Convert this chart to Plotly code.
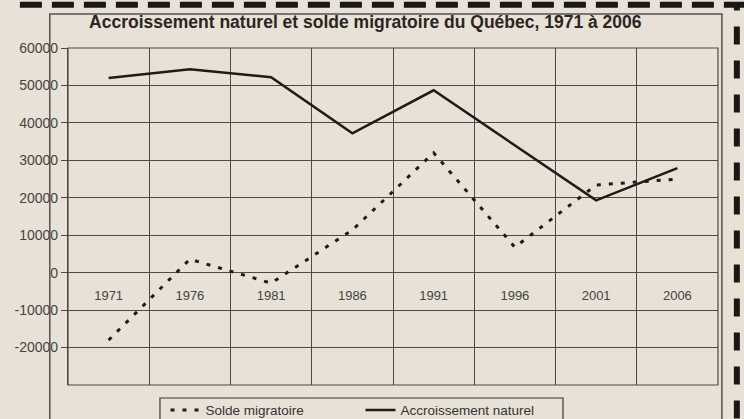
import plotly.graph_objects as go

years = ["1971", "1976", "1981", "1986", "1991", "1996", "2001", "2006"]
accroissement = [52000, 54300, 52200, 37200, 48700, 34000, 19300, 27900]
solde = [-18000, 3600, -2800, 11400, 32000, 6800, 23400, 25000]
y_ticks = [-20000, -10000, 0, 10000, 20000, 30000, 40000, 50000, 60000]
y_tick_labels = [str(v) for v in y_ticks]

PAPER = "#e8e1d5"
INK = "#1f1b18"
GRID = "#4f4943"
FONT = "Liberation Sans, Arial, sans-serif"

fig = go.Figure()
fig.add_trace(go.Scatter(
    x=years, y=solde, mode="lines", name="Solde migratoire",
    line=dict(color=INK, width=3, dash="4px,8px"),
))
fig.add_trace(go.Scatter(
    x=years, y=accroissement, mode="lines", name="Accroissement naturel",
    line=dict(color=INK, width=2.5),
))

fig.update_layout(
    width=744, height=419,
    paper_bgcolor=PAPER, plot_bgcolor=PAPER,
    margin=dict(l=68, r=26, t=48, b=34, autoexpand=False),
    title=dict(
        text="<b>Accroissement naturel et solde migratoire du Québec, 1971 à 2006</b>",
        x=0.491, xanchor="center", y=0.947, yanchor="middle",
        font=dict(family=FONT, size=17.5, color="#2a2622"),
    ),
    font=dict(family=FONT, size=12, color="#444"),
    showlegend=True,
    legend=dict(
        orientation="h", x=0.15, y=-0.029, xanchor="left", yanchor="top",
        borderwidth=0, bgcolor="rgba(0,0,0,0)",
        font=dict(family=FONT, size=13.5, color="#333"),
        entrywidth=150, entrywidthmode="pixels",
    ),
    xaxis=dict(
        type="category", tickson="boundaries",
        showgrid=True, gridcolor=GRID, gridwidth=1.2,
        anchor="free", position=1/3,
        showline=False, ticks="", ticklabelstandoff=13,
        tickfont=dict(family=FONT, size=13, color="#444"),
        range=[-0.5, 7.5], fixedrange=True,
    ),
    yaxis=dict(
        range=[-30000, 60000], tickmode="array", tickvals=y_ticks,
        ticktext=y_tick_labels,
        showgrid=True, gridcolor=GRID, gridwidth=1.2,
        zeroline=False, showline=True, linecolor=GRID, linewidth=1.2,
        ticks="outside", ticklen=6, tickcolor=GRID,
        tickfont=dict(family=FONT, size=14, color="#444"),
    ),
    shapes=[
        dict(type="rect", xref="paper", yref="paper", x0=0, x1=1, y0=0, y1=1,
             line=dict(color=GRID, width=1.2)),
        dict(type="rect", xref="paper", yref="paper", x0=-0.028, x1=1.006, y0=-0.3, y1=1.101,
             line=dict(color="#55504a", width=1.5)),
        dict(type="rect", xref="paper", yref="paper", x0=0.1415, x1=0.7615, y0=-0.3, y1=-0.0386,
             line=dict(color="#3a3632", width=1.2)),
        dict(type="line", xref="paper", yref="paper", x0=-0.074, x1=1.04, y0=1.128, y1=1.128,
             line=dict(color="#1a1613", width=6, dash="22px,10px")),
        dict(type="line", xref="paper", yref="paper", x0=1.029, x1=1.029, y0=-0.2, y1=1.13,
             line=dict(color="#1a1613", width=6, dash="18px,16px")),
    ],
)

fig.write_html(
    "out.html",
    config={"displayModeBar": False},
    post_script="document.body.style.margin='0';document.body.style.overflow='hidden';",
)
